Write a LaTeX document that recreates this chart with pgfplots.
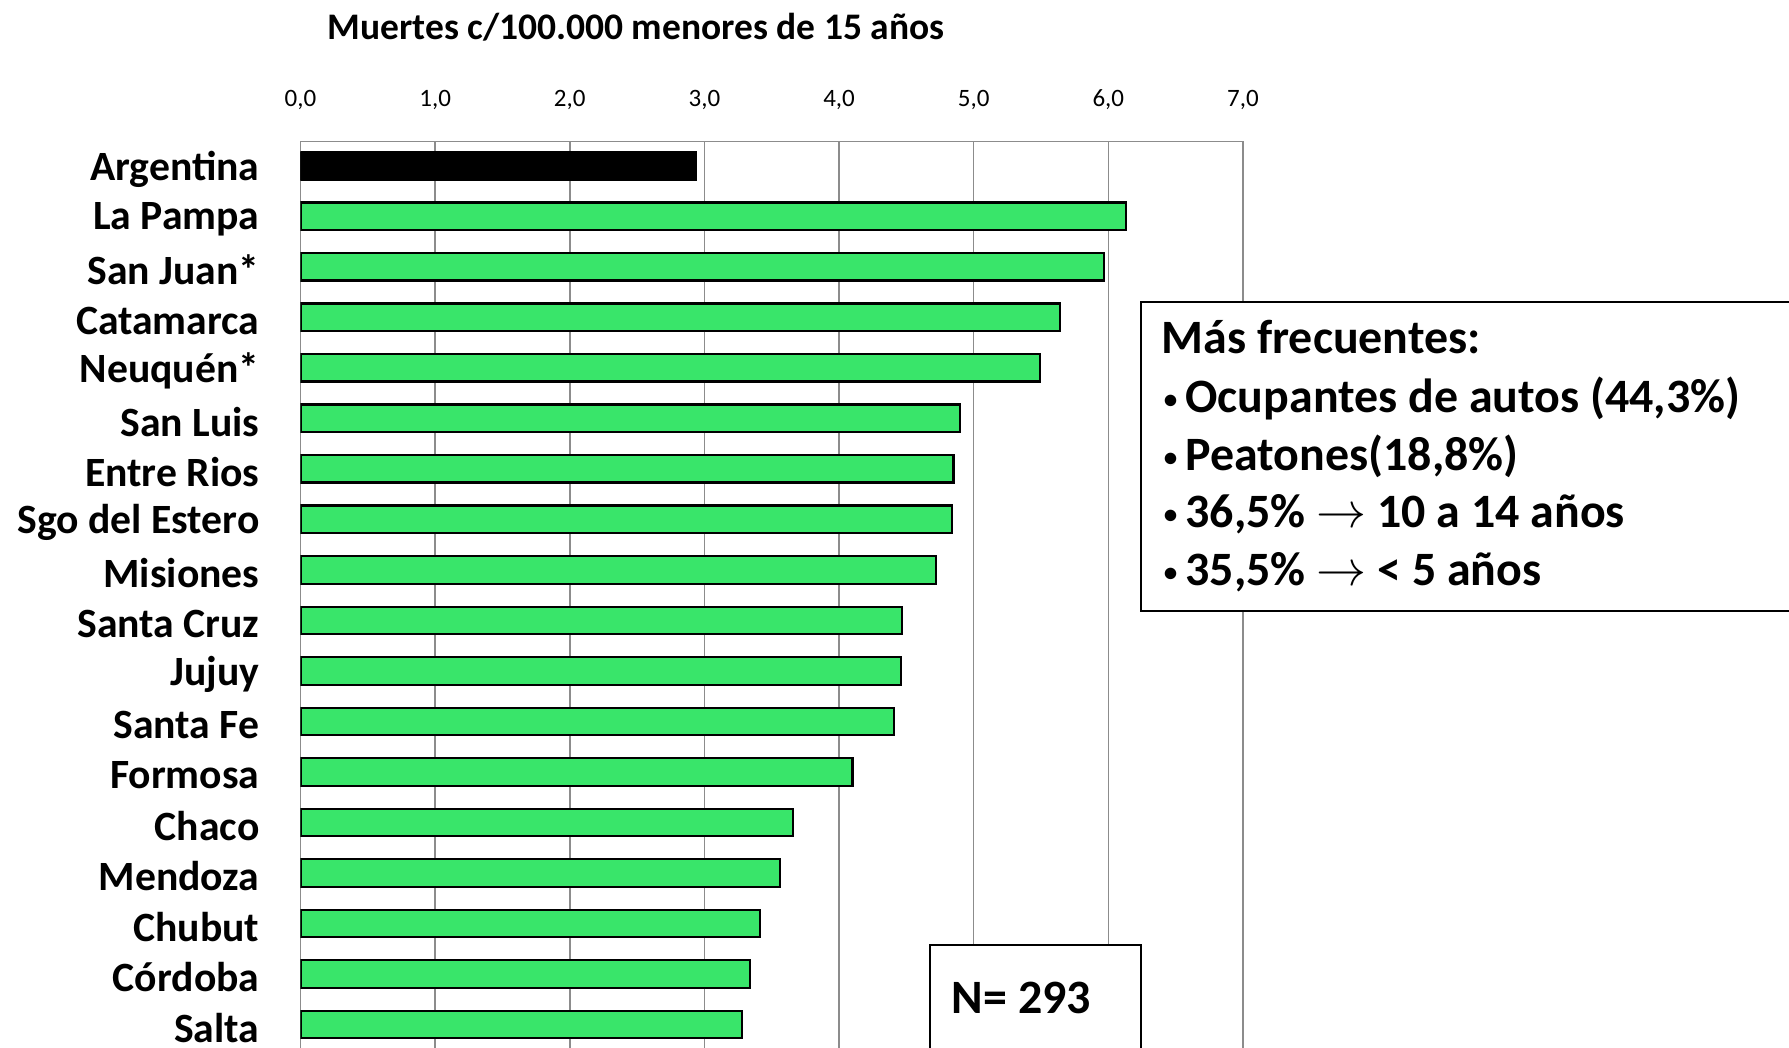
\documentclass[border=0pt]{standalone}
\usepackage{fontspec}
\setmainfont{Carlito}
\usepackage{pgfplots}
\pgfplotsset{compat=1.18}
\definecolor{barg}{RGB}{57,229,106}
\definecolor{gridc}{RGB}{140,140,140}
\newcommand{\bul}{\makebox[5.2pt][l]{\raisebox{0.9pt}{\fontsize{6.5}{6.5}\selectfont •}}}
\begin{document}
\begin{tikzpicture}
\path[use as bounding box, clip] (0,0) rectangle (429.36pt,-251.52pt);
\begin{axis}[
  at={(72.12pt,-33.96pt)}, anchor=north west,
  width=226.2pt, height=224pt, scale only axis,
  xmin=0, xmax=7, ymin=-0.48, ymax=18, y dir=reverse,
  xtick={0,1,...,7}, xticklabel pos=right,
  xmajorgrids, major grid style={gridc, line width=0.35pt},
  axis line style={gridc, line width=0.35pt},
  tick style={draw=none},
  xticklabel style={/pgf/number format/fixed, /pgf/number format/fixed zerofill,
    /pgf/number format/precision=1, /pgf/number format/use comma,
    /pgf/number format/assume math mode=true,
    font=\fontsize{6}{7}\selectfont, anchor=base, yshift=8.3pt},
  ytick={0,1,...,17},
  yticklabels={Argentina, La Pampa, San Juan*, Catamarca, Neuquén*, San Luis, Entre Rios, Sgo del Estero, Misiones, Santa Cruz, Jujuy, Santa Fe, Formosa, Chaco, Mendoza, Chubut, Córdoba, Salta},
  yticklabel style={font=\bfseries\fontsize{10}{12}\selectfont, anchor=east, inner sep=0pt, xshift=-5.4pt, yshift=-0.8pt},
  xbar, bar width=6.6pt, bar shift=0pt,
]
\addplot[fill=black, draw=black, line width=0.5pt] coordinates {(2.94,0)};
\addplot[fill=barg, draw=black, line width=0.5pt] coordinates {
(6.13,1) (5.97,2) (5.64,3) (5.49,4) (4.90,5) (4.85,6) (4.84,7) (4.72,8)
(4.47,9) (4.46,10) (4.41,11) (4.10,12) (3.66,13) (3.56,14) (3.41,15) (3.34,16) (3.28,17)};
\end{axis}
\begin{scope}[x=0.24pt,y=-0.24pt]
\node[anchor=base, font=\bfseries\fontsize{9}{11}\selectfont] at (636,39.5) {Muertes c/100.000 menores de 15 años};
\draw[fill=white, line width=0.5pt] (1141,302) rectangle (1830,611);
\begin{scope}[every node/.style={anchor=base west, inner sep=0pt, font=\bfseries\fontsize{11.5}{13}\selectfont}]
\node at (1161,353) {Más frecuentes:};
\node at (1163,412) {\bul Ocupantes de autos (44,3\%)};
\node at (1163,470) {\bul Peatones(18,8\%)};
\node at (1163,527) {\bul 36,5\% $\rightarrow$ 10 a 14 años};
\node at (1163,585) {\bul 35,5\% $\rightarrow$ < 5 años};
\end{scope}
\draw[fill=white, line width=0.5pt] (930,945) rectangle (1141,1100);
\node[anchor=base west, inner sep=0pt, font=\bfseries\fontsize{11.5}{13}\selectfont] at (951,1013) {N= 293};
\end{scope}
\end{tikzpicture}
\end{document}
